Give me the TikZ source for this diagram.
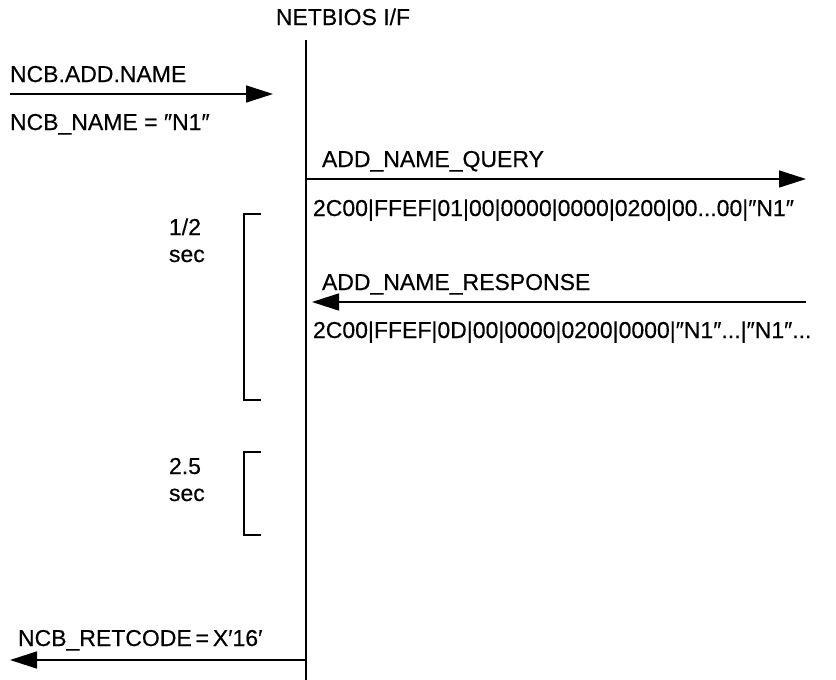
\documentclass[tikz,border=0pt]{standalone}
\usepackage{fontspec}
\setmainfont{Liberation Sans}[FakeBold=0.4]
\usetikzlibrary{arrows.meta}
\begin{document}
\begin{tikzpicture}[x=1pt,y=-1pt,
  every node/.style={inner sep=0pt,outer sep=0pt,font=\fontsize{23}{27}\selectfont},
  lbl/.style={anchor=base west},
  seqline/.style={line width=1.8pt},
  msg/.style={line width=1.6pt,-{Triangle[length=27pt,width=17pt]}},
  brk/.style={line width=1.6pt}]
\useasboundingbox (0,0) rectangle (836,680);
% interface line
\node[anchor=base] (nb) at (343,25) {NETBIOS I/F};
\coordinate (ltop) at (306,40);
\coordinate (lbot) at (306,680);
\draw[seqline] (ltop) -- (lbot);
% NCB.ADD.NAME
\coordinate (a1s) at (10,94);
\coordinate (a1e) at (273,94);
\draw[msg] (a1s) -- (a1e);
\node[lbl] (t1) at (10,82) {NCB.ADD.NAME};
\node[lbl] (t2) at (10,130) {NCB\_NAME = ″N1″};
% query
\coordinate (qs) at (306,179);
\coordinate (qe) at (806,179);
\draw[msg] (qs) -- (qe);
\node[lbl] (q1) at (322,167) {ADD\_NAME\_QUERY};
\node[lbl] (q2) at (313,216) {2C00|FFEF|01|00|0000|0000|0200|00...00|″N1″};
% response
\coordinate (rs) at (806,302);
\coordinate (re) at (312,302);
\draw[msg] (rs) -- (re);
\node[lbl] (r1) at (322,290) {ADD\_NAME\_RESPONSE};
\node[lbl] (r2) at (313,338) {2C00|FFEF|0D|00|0000|0200|0000|″N1″...|″N1″...};
% brackets
\coordinate (b1a) at (261,214);
\coordinate (b1b) at (261,400);
\draw[brk] (b1a) -- (244,214) -- (244,400) -- (b1b);
\node[lbl] (h1) at (169,235) {1/2};
\node[lbl] (h2) at (169,262) {sec};
\coordinate (b2a) at (261,452);
\coordinate (b2b) at (261,535);
\draw[brk] (b2a) -- (244,452) -- (244,535) -- (b2b);
\node[lbl] (s1) at (169,474) {2.5};
\node[lbl] (s2) at (169,501) {sec};
% retcode
\coordinate (cs) at (306,660);
\coordinate (ce) at (10,660);
\draw[msg] (cs) -- (ce);
\node[lbl] (c1) at (18,646) {NCB\_RETCODE\,=\,X′16′};
\end{tikzpicture}
\end{document}
